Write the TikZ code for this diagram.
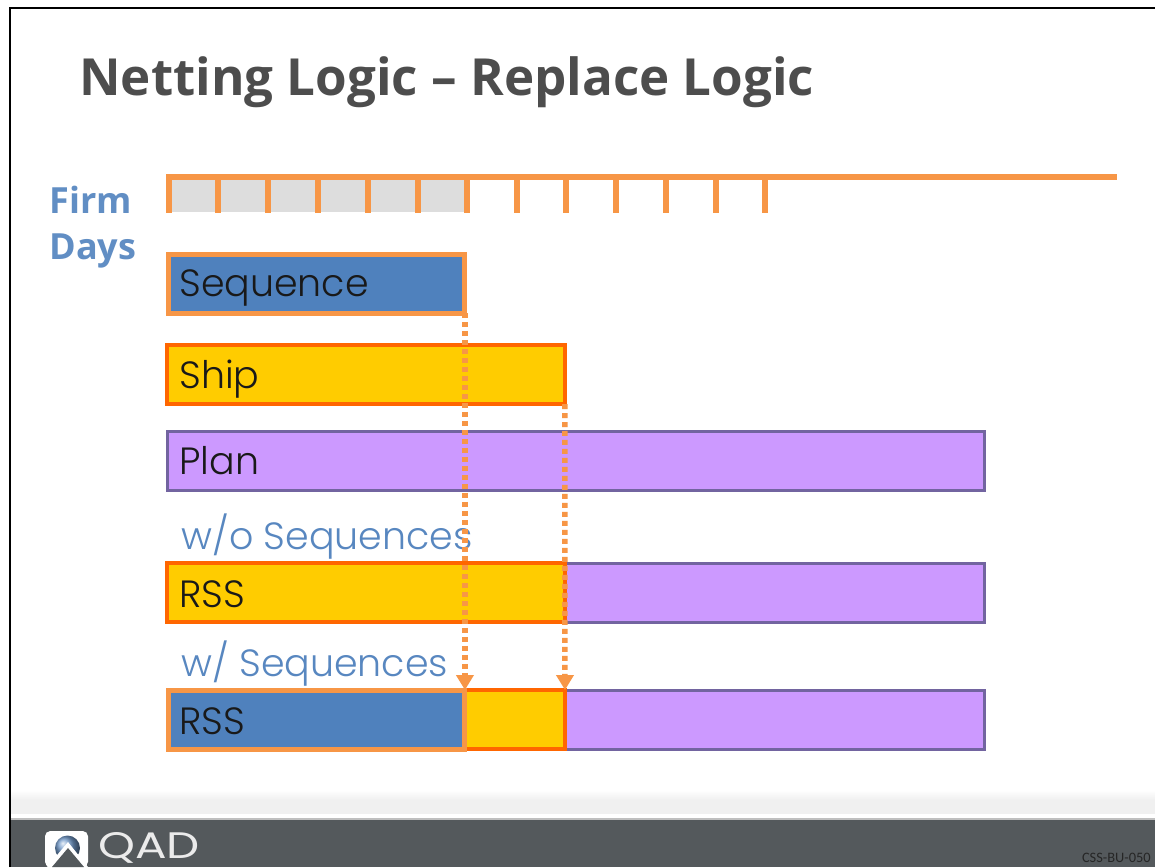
\documentclass[tikz,border=0pt]{standalone}
\usepackage{fontspec}
\setmainfont{Poppins Light}
\newfontfamily\logofont{Poppins}
\newfontfamily\titlefont{Open Sans}
\newfontfamily\smallfont{Carlito}
\usepackage{xcolor}
\usetikzlibrary{arrows.meta,positioning,calc}
\definecolor{ruleorange}{HTML}{F79646}
\definecolor{shiporange}{HTML}{FF6600}
\definecolor{seqblue}{HTML}{4F81BD}
\definecolor{shipyellow}{HTML}{FFCC00}
\definecolor{planpurple}{HTML}{CC99FF}
\definecolor{planedge}{HTML}{7264A0}
\definecolor{cellgray}{HTML}{DDDDDD}
\definecolor{footgray}{HTML}{54595C}
\definecolor{titlegray}{HTML}{4D4D4D}
\begin{document}
\begin{tikzpicture}[
  x=0.02cm, y=-0.02cm,
  bar/.style={rectangle, draw, anchor=north west, inner sep=0pt, outer sep=0pt, minimum height=1.18cm, line width=0.06cm},
  seqbar/.style={bar, fill=seqblue, draw=ruleorange, line width=0.1cm},
  shipbar/.style={bar, fill=shipyellow, draw=shiporange, line width=0.07cm},
  planbar/.style={bar, fill=planpurple, draw=planedge},
  bartext/.style={anchor=west, inner sep=0pt, font=\fontsize{21.6}{24}\selectfont, text=black!90},
  sublabel/.style={anchor=west, inner sep=0pt, text=seqblue!95!white, font=\fontsize{21.6}{24}\selectfont},
  tickline/.style={ruleorange, line width=0.115cm},
  arr/.style={-{Triangle[length=0.3cm, width=0.34cm]}, ruleorange, line width=0.11cm, dash pattern=on 0.1cm off 0.08cm}
]
\useasboundingbox (0,0) rectangle (1155,867);

% frame and footer
\fill[white] (0,0) rectangle (1155,867);
\draw[line width=0.04cm] (10,867) -- (10,8) -- (1155,8);
\shade[top color=white, bottom color=black!6] (11,790) rectangle (1155,800);
\fill[black!6] (11,800) rectangle (1155,814);
\fill[footgray] (11,820) rectangle (1155,867);
\fill[black!25] (11,818) rectangle (1155,820);

% logo
\fill[white, rounded corners=3pt] (45,831) -- (88,831) -- (88,867) -- (45,867) -- cycle;
\shade[ball color=seqblue!80!white] (67.5,848) circle (0.25cm);
\fill[white] (47,867) -- (68,842) -- (88,867) -- cycle;
\fill[footgray] (52,867) -- (68,848) -- (84,867) -- cycle;
\node[anchor=west, inner sep=0pt, text=white!92!black, xscale=1.27, font=\logofont\fontsize{21}{22}\selectfont] (qad) at (98,848) {QAD};
\node[anchor=east, inner sep=0pt, text=black!85, font=\smallfont\fontsize{8.2}{9}\selectfont] (code) at (1151,858) {CSS-BU-050};

% title
\node[anchor=west, inner sep=0pt, text=titlegray, font=\titlefont\bfseries\fontsize{29.1}{36}\selectfont] (title) at (79,82) {Netting Logic – Replace Logic};

% firm days
\node[anchor=north west, inner sep=0pt, align=left, text=seqblue!90!white, font=\titlefont\bfseries\fontsize{20.5}{26}\selectfont] (firm) at (49,186) {Firm\\Days};

% time line
\foreach \x in {169,218,268,318,368,418} {
  \fill[cellgray] (\x,180) rectangle ++(50,32);
}
\draw[ruleorange, line width=0.12cm] (166,177) -- (1117,177);
\foreach \x in {169,218,268,318,368,418,467,517,566,616,666,716,765} {
  \draw[tickline] (\x,177) -- (\x,213);
}

% bars
\node[seqbar, minimum width=5.94cm] (sequence) at (168,254) {};
\node[bartext] (seqtext) at (179,288) {Sequence};
\node[shipbar, minimum width=7.96cm] (ship) at (167,345) {};
\node[bartext] (shiptext) at (179,379) {Ship};
\node[planbar, minimum width=16.36cm] (plan) at (167,431) {};
\node[bartext] (plantext) at (179,461) {Plan};

% without sequences
\node[sublabel] (without) at (181,537) {w/o Sequences};
\node[planbar, minimum width=8.4cm] (rssplanA) at (565,563) {};
\node[shipbar, minimum width=7.96cm] (rssshipA) at (167,563) {};
\node[bartext] (rsstextA) at (179,594) {RSS};

% with sequences
\node[sublabel] (with) at (181,664) {w/ Sequences};
\node[planbar, minimum width=8.4cm] (rssplanB) at (565,690) {};
\node[shipbar, minimum width=2cm] (rssshipB) at (465,690) {};
\node[seqbar, minimum width=5.94cm] (rssseq) at (168,690) {};
\node[bartext] (rsstextB) at (179,721) {RSS};

\draw[arr] (sequence.south east) -- (rssseq.north east);
\draw[arr] (ship.south east) -- (rssshipB.north east);

\end{tikzpicture}
\end{document}
